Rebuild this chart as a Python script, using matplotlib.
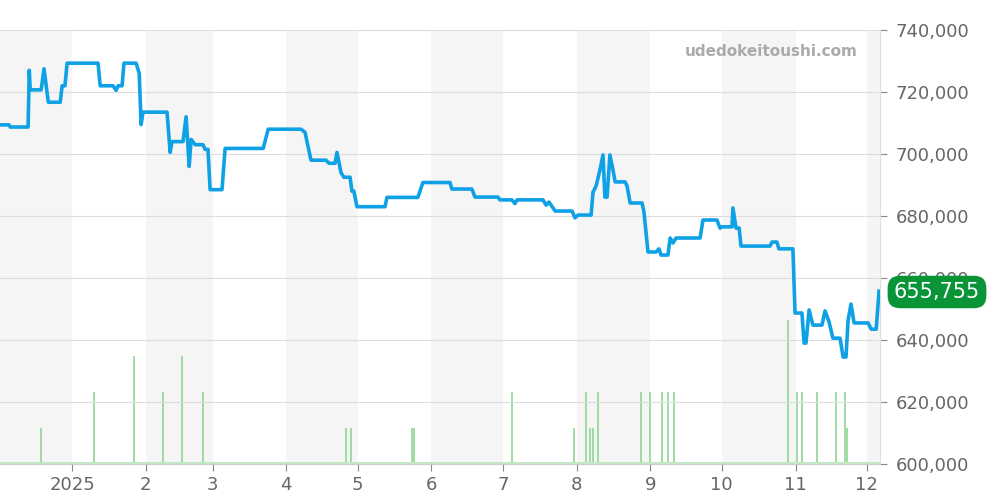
import numpy as np
import pandas as pd
import matplotlib
matplotlib.use('Agg')
import matplotlib.pyplot as plt

# price series: day offset from 2025-01-01, price
p_day=[-30.3,-26.5,-26,-18.5,-18,-17.6,-13,-11.8,-10,-5,-4.2,-3,-2.1,10.9,11.8,17.2,18.5,19.3,21,21.8,26.9,28.2,29,29.8,
       39.9,41.2,42,46.6,47.9,49.2,50,51.7,55,55.9,57.1,58,63,64.3,80.3,82.4,96.2,97.9,98.7,100.4,106.7,108,110.5,111.3,
       113,114.2,116.8,117.6,118.4,119.7,131.5,132.3,145.3,147.4,158.8,159.6,168,169.3,178.9,179.8,184.8,186.1,187,197.9,
       199.2,200.4,203,210.1,211.3,212.6,218.1,218.9,220.2,221.8,223.1,223.9,224.8,226,227.3,228.2,232.4,233.2,234.5,239.5,
       240.3,242,245.4,246.6,247.5,250.4,251.3,252.5,253.8,263.9,265.1,271,272.3,273.1,277.3,277.7,279,280.3,281.1,293.3,
       294.1,296.2,297,302.9,303.8,306.7,307.6,308.4,309.7,311.3,315.1,316.4,318.1,319.7,322.7,324,325.2,326.1,327.3,328.6,
       334.5,335.8,337.9,339.1]
p_val=[709.4,709.4,708.7,708.7,727,720.7,720.7,727.5,716.7,716.7,722,722,729.3,729.3,722,722,720.5,722,722,729.3,729.3,726,709.5,713.5,
       713.5,700.5,704,704,712,696,704.7,703,703,701.5,701.5,688.5,688.5,701.8,701.8,708,708,707,704,698,698,697,697,700.5,
       694,692.5,692.5,688,688,683,683,686,686,690.8,690.8,688.7,688.7,686.1,686.1,685.2,685.2,684,685.2,685.2,
       683.5,684.5,681.6,681.6,679.4,680.3,680.3,687.7,689.7,694.8,699.7,686.1,686.1,699.7,694.8,691,691,689.7,684.2,684.2,
       681.3,668.4,668.4,669.4,667.4,667.4,672.9,671.3,672.9,672.9,678.7,678.7,676.1,676.5,676.5,682.6,676.1,676.1,670.3,670.3,
       671.6,671.6,669.4,669.4,648.7,648.7,639,639,649.7,644.8,644.8,649.4,645.8,640.6,640.6,634.5,634.5,646.4,651.6,645.5,
       645.5,643.5,643.5,655.755]
# trade counts
v_day=[-13,9.2,26,38.2,46.2,55,115,117.2,142.8,143.6,184.8,210.8,215.9,217.6,218.8,220.9,239,242.8,247.8,250.3,252.8,
       300.7,304.5,306.6,312.9,320.9,324.7,325.5]
v_cnt=[1,2,3,2,3,2,1,1,1,1,2,1,2,1,1,2,2,2,2,2,2,4,2,2,2,2,2,1]
last_price=655755
month_labels=['2025','2','3','4','5','6','7','8','9','10','11','12']

base=pd.Timestamp('2025-01-01')
px=base+pd.to_timedelta(p_day,unit='D')
vx=base+pd.to_timedelta(v_day,unit='D')
py=np.array(p_val)*1000

fig=plt.figure(figsize=(10,5),dpi=100)
ax=fig.add_axes([0,0.072,0.88,0.868])
xmin=base+pd.Timedelta(days=-30.3); xmax=base+pd.Timedelta(days=339.5)

ax2=ax.twinx()
# month shading
for m in range(0,13):
    st=pd.Timestamp('2024-12-01')+pd.DateOffset(months=m)
    if st.month%2==0 or st.month==12:
        ax2.axvspan(st,st+pd.DateOffset(months=1),color='#f5f5f5',zorder=0,lw=0)
ax2.vlines(vx,0,v_cnt,color='#8fd694',lw=1.2,zorder=2)
ax2.axhline(0.03,color='#c4e8c6',lw=1.5,zorder=2)
ax2.set_ylim(0,12.05)
ax2.axis('off')

ax.plot(px,py,color='#0ea1e6',lw=2.6,zorder=5)
ax.set_zorder(ax2.get_zorder()+1); ax.patch.set_visible(False)
ax.set_xlim(xmin,xmax); ax2.set_xlim(xmin,xmax)
ax.set_ylim(600000,740000)
ax.yaxis.tick_right()
ax.set_yticks(np.arange(600000,740001,20000))
ax.set_yticklabels([f'{v:,}' for v in range(600000,740001,20000)])
ax.grid(axis='y',color='#dddddd',lw=0.8)
ticks=[pd.Timestamp(2025,m,1) for m in range(1,13)]
ax.set_xticks(ticks); ax.set_xticklabels(month_labels)
ax.tick_params(axis='both',colors='#888888',labelcolor='#666666',labelsize=13,length=5)
ax.tick_params(axis='y',pad=6)
for s in ['top','left']:
    ax.spines[s].set_visible(False)
ax.spines['right'].set_color('#dddddd')
ax.spines['bottom'].set_color('#cccccc')

ax.text(0.975,0.95,'udedokeitoushi.com',transform=ax.transAxes,ha='right',va='center',
        fontsize=11,fontweight='bold',color='#aaaaaa')
fig.text(0.937,0.416,f'{last_price:,}',ha='center',va='center',fontsize=15,color='white',zorder=10,
         bbox=dict(boxstyle='round,pad=0.3,rounding_size=0.6',fc='#0a9438',ec='none'))
fig.savefig('out.png',dpi=100)
